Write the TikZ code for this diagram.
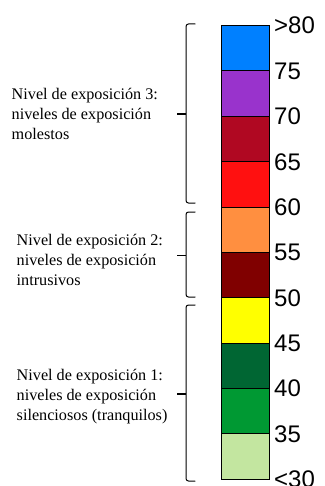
\documentclass[tikz,border=0pt]{standalone}
\usepackage{fontspec}
\setmainfont{Liberation Serif}
\newfontfamily\arialfont{Liberation Sans}
\definecolor{azul}{RGB}{0,128,255}
\definecolor{morado}{RGB}{153,51,204}
\definecolor{granate}{RGB}{176,8,34}
\definecolor{rojo}{RGB}{255,16,16}
\definecolor{naranja}{RGB}{255,143,64}
\definecolor{marron}{RGB}{128,0,0}
\definecolor{amarillo}{RGB}{255,255,0}
\definecolor{verdeosc}{RGB}{0,102,51}
\definecolor{verde}{RGB}{0,153,51}
\definecolor{verdecla}{RGB}{195,230,160}
\newcommand{\llave}[3]{%
	\draw[llave] (195,#1) -- (186,#1) -- (186,#3) -- (195,#3);
	\draw[tick] (177,#2) -- (186,#2);}

\begin{document}
\begin{tikzpicture}[x=1pt,y=-1pt,line cap=round]
	\tikzstyle{caja}=[draw=black,line width=0.8pt];
	\tikzstyle{valor}=[anchor=base west,inner sep=0pt,font=\arialfont\fontsize{24}{24}\selectfont];
	\tikzstyle{nivel}=[anchor=north west,inner sep=0pt,align=left,font=\fontsize{16.2}{20}\selectfont];
	\tikzstyle{llave}=[draw=black,line width=1pt,rounded corners=2.5pt];
	\tikzstyle{tick}=[draw=black,line width=1.5pt,line cap=butt];

	\useasboundingbox (0,0) rectangle (324,486);

	% escala de colores
	\foreach \col [count=\i from 0] in {azul,morado,granate,rojo,naranja,marron,amarillo,verdeosc,verde,verdecla}
		\draw[caja,fill=\col] (221,25.5+45.35*\i) rectangle (269,25.5+45.35*\i+45.35);
	\foreach \v [count=\i from 0] in {>80,75,70,65,60,55,50,45,40,35,<30}
		\node[valor] (v\i) at (274,25.5+45.35*\i+8.5) {\v};

	% llaves
	\llave{24}{114}{203}
	\llave{212}{255.5}{297}
	\llave{305}{394}{481}

	\node[nivel] (n3) at (11.5,88) {Nivel de exposición 3:\\niveles de exposición\\molestos};
	\node[nivel] (n2) at (16.5,234) {Nivel de exposición 2:\\niveles de exposición\\intrusivos};
	\node[nivel] (n1) at (16.5,369) {Nivel de exposición 1:\\niveles de exposición\\silenciosos (tranquilos)};
\end{tikzpicture}
\end{document}
